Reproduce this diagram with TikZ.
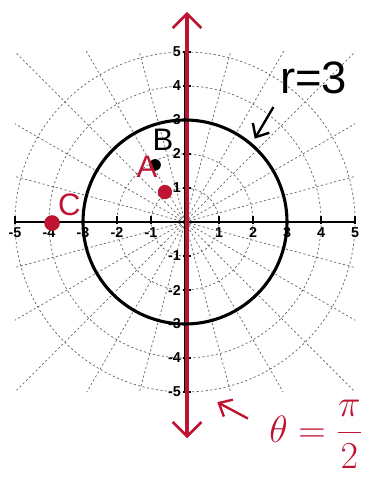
\documentclass[tikz,border=0pt]{standalone}
\usepackage{fontspec}
\setmainfont{Liberation Sans}
\usetikzlibrary{arrows.meta}
\definecolor{ink}{RGB}{190,20,50}
\definecolor{gridc}{RGB}{100,100,100}
\tikzset{
  gridline/.style={gridc, line width=0.6pt, dash pattern=on 1.8pt off 2pt},
  axisline/.style={black, line width=1.6pt},
  tickl/.style={font=\fontsize{12}{13}\selectfont\bfseries, inner sep=1pt},
  redaxis/.style={ink, line width=2.6pt, {Straight Barb[length=12pt,width=24pt,line width=2.2pt]}-{Straight Barb[length=12pt,width=24pt,line width=2.2pt]}},
  pointer/.style={line width=2pt, -{Straight Barb[length=9pt,width=16pt,line width=2pt]}},
  hand/.style={font=\fontsize{38}{40}\selectfont, inner sep=0pt},
  lbl/.style={font=\fontsize{26}{28}\selectfont, inner sep=0pt},
  dot/.style={circle, inner sep=0pt, draw=none}
}
\begin{document}
\begin{tikzpicture}
\useasboundingbox (-5.441,-7.5) rectangle (5.529,6.529);
% polar grid
\foreach \r in {1,...,5} \draw[gridline] (0,0) circle (\r);
\begin{scope}
  \clip (-5,-5) rectangle (5,5);
  \foreach \a in {15,30,45,60,75,105,120,135,150,165,195,210,225,240,255,285,300,315,330,345}
    \draw[gridline] (0,0) -- (\a:7.2);
\end{scope}
% axes
\coordinate (xl) at (-5,0); \coordinate (xr) at (5,0);
\coordinate (yt) at (0,5); \coordinate (yb) at (0,-5);
\draw[axisline] (xl) -- (xr);
\draw[axisline] (yb) -- (yt);
\foreach \x in {-5,...,-1,1,2,3,4,5} {
  \draw[black, line width=1pt] (\x,-0.06) -- (\x,0.18);
  \node[tickl, anchor=north] (tx\x) at (\x,-0.12) {\x};
}
\foreach \y in {-5,...,-1,1,2,3,4,5} {
  \draw[black, line width=1pt] (-0.06,\y) -- (0.18,\y);
  \node[tickl, anchor=east] (ty\y) at (-0.08,\y) {\y};
}
% red axis
\coordinate (rt) at (0.06,6.18);
\coordinate (rb) at (0.06,-6.36);
\draw[redaxis] (rb) -- (rt);
% circle r=3
\draw[black, line width=2.6pt] (0,0) circle (3);
% labels
\node[hand] (rlab) at (3.78,4.25) {r=3};
\coordinate (rs) at (2.6,3.38);
\coordinate (re) at (2.05,2.45);
\draw[pointer] (rs) -- (re);
\node[font=\fontsize{38}{40}\selectfont, inner sep=0pt, ink] (tlab) at (3.85,-6.24) {\scalebox{1.28}{$\displaystyle\theta=\frac{\pi}{2}$}};
\coordinate (ts) at (1.85,-5.78);
\coordinate (te) at (0.95,-5.3);
\draw[pointer, ink] (ts) -- (te);
% points
\node[dot, fill=ink, minimum size=0.42cm] (A) at (-0.59,0.88) {};
\node[dot, fill=black, minimum size=0.34cm] (B) at (-0.88,1.68) {};
\node[dot, fill=ink, minimum size=0.46cm] (C) at (-3.91,-0.03) {};
\node[lbl, ink] (Al) at (-1.12,1.62) {A};
\node[lbl] (Bl) at (-0.65,2.42) {B};
\node[lbl, ink] (Cl) at (-3.4,0.52) {C};
\end{tikzpicture}
\end{document}
